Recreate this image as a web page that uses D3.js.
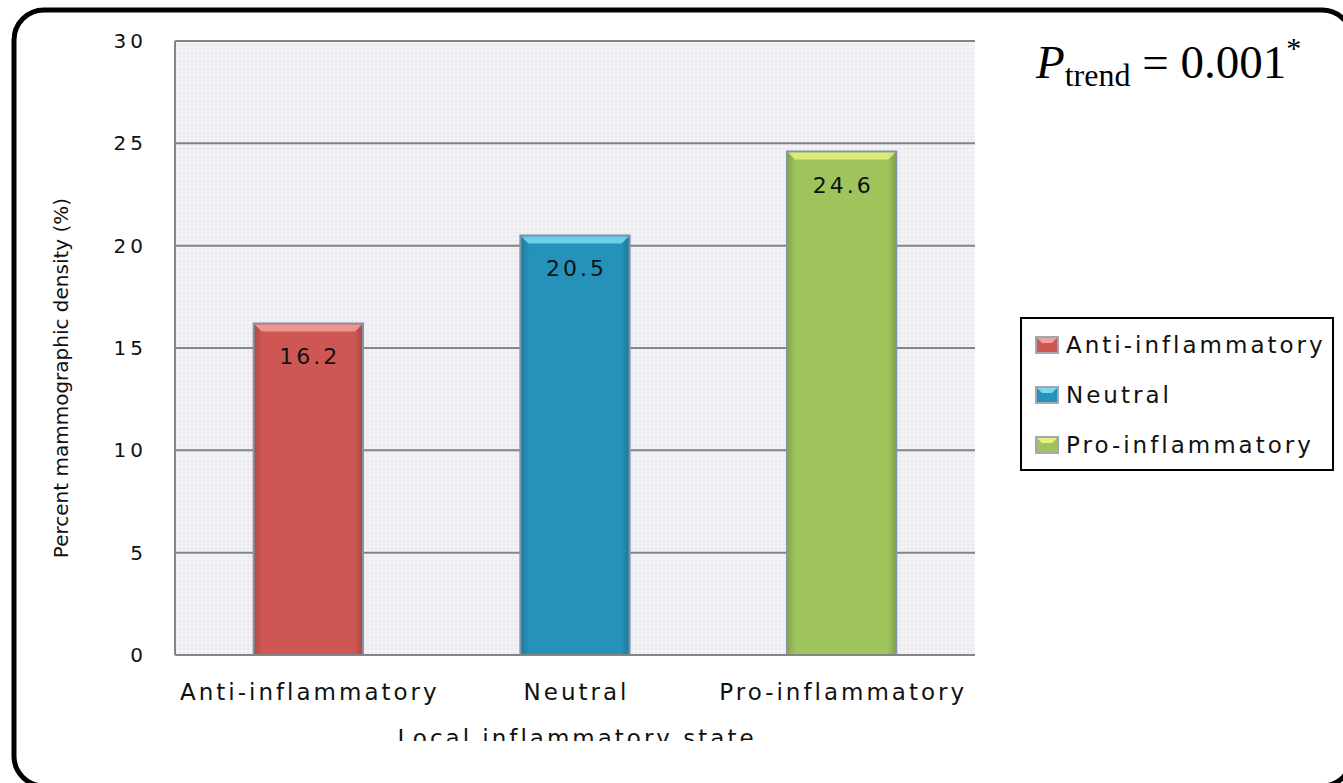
<!DOCTYPE html>
<html>
<head>
<meta charset="utf-8">
<script src="https://cdn.jsdelivr.net/npm/d3@7"></script>
<style>
  html, body { margin: 0; padding: 0; background: #fff; }
  svg { display: block; }
</style>
</head>
<body>
<svg id="chart" width="1343" height="783"></svg>
<script>
// Mean percent mammographic density by local inflammatory state
const categories = ["Anti-inflammatory", "Neutral", "Pro-inflammatory"];
const densityValues = [16.2, 20.5, 24.6];
const yTicks = [0, 5, 10, 15, 20, 25, 30];
const barColors = ["#cf5753", "#2593b9", "#9fc45c"];
const barLight = ["#f2a0a0", "#7ad8f0", "#e6f27a"];

const svg = d3.select("#chart");
const font = "'DejaVu Sans', Verdana, sans-serif";

// Outer rounded frame (runs off the right and bottom edges)
svg.append("rect")
  .attr("x", 14).attr("y", 10)
  .attr("width", 1338).attr("height", 776)
  .attr("rx", 30).attr("ry", 30)
  .attr("fill", "none").attr("stroke", "#000").attr("stroke-width", 5);

const plot = { left: 175, right: 975, top: 41, bottom: 655 };

const x = d3.scaleBand()
  .domain(categories)
  .range([plot.left, plot.right])
  .paddingInner(0.59).paddingOuter(0.295);

const y = d3.scaleLinear().domain([0, 30]).range([plot.bottom, plot.top]);

const defs = svg.append("defs");

// Faint textured background for the plotting area
const pat = defs.append("pattern")
  .attr("id", "bgTex").attr("width", 4).attr("height", 4)
  .attr("patternUnits", "userSpaceOnUse");
pat.append("rect").attr("width", 4).attr("height", 4).attr("fill", "#f1f0f3");
pat.append("rect").attr("x", 0).attr("y", 0).attr("width", 1).attr("height", 1).attr("fill", "#e4e2e8");
pat.append("rect").attr("x", 2).attr("y", 2).attr("width", 1).attr("height", 1).attr("fill", "#fafafc");
pat.append("rect").attr("x", 3).attr("y", 1).attr("width", 1).attr("height", 1).attr("fill", "#e7e5ea");

svg.append("rect")
  .attr("x", plot.left).attr("y", plot.top)
  .attr("width", plot.right - plot.left).attr("height", plot.bottom - plot.top)
  .attr("fill", "url(#bgTex)");

// Horizontal gridlines
svg.append("g")
  .selectAll("line")
  .data(yTicks)
  .join("line")
  .attr("x1", plot.left).attr("x2", plot.right)
  .attr("y1", d => y(d)).attr("y2", d => y(d))
  .attr("stroke", "#858585").attr("stroke-width", 2);

// Left axis line
svg.append("line")
  .attr("x1", plot.left).attr("x2", plot.left)
  .attr("y1", plot.top).attr("y2", plot.bottom)
  .attr("stroke", "#858585").attr("stroke-width", 2);

// Y axis tick labels
const yAxis = d3.axisLeft(y).tickValues(yTicks).tickSize(0).tickPadding(0);
const yg = svg.append("g").attr("transform", `translate(${plot.left - 28},0)`).call(yAxis);
yg.select(".domain").remove();
yg.selectAll("text")
  .attr("font-family", font).attr("font-size", 20)
  .attr("letter-spacing", "4px").attr("fill", "#111");

// Y axis title
svg.append("text")
  .attr("transform", `translate(68,378) rotate(-90)`)
  .attr("text-anchor", "middle")
  .attr("font-family", font).attr("font-size", 20)
  .attr("fill", "#111")
  .text("Percent mammographic density (%)");

// Bars with a bevelled look
const bars = svg.append("g");
categories.forEach((c, i) => {
  const g = defs.append("linearGradient")
    .attr("id", "grad" + i).attr("x1", 0).attr("x2", 1).attr("y1", 0).attr("y2", 0);
  g.append("stop").attr("offset", "0%").attr("stop-color", d3.color(barColors[i]).darker(0.5));
  g.append("stop").attr("offset", "8%").attr("stop-color", barColors[i]);
  g.append("stop").attr("offset", "92%").attr("stop-color", barColors[i]);
  g.append("stop").attr("offset", "100%").attr("stop-color", d3.color(barColors[i]).darker(0.6));
});

bars.selectAll("rect.bar")
  .data(densityValues)
  .join("rect")
  .attr("class", "bar")
  .attr("x", (d, i) => x(categories[i]))
  .attr("y", d => y(d))
  .attr("width", x.bandwidth())
  .attr("height", d => y(0) - y(d))
  .attr("fill", (d, i) => `url(#grad${i})`)
  .attr("stroke", "#8394ad").attr("stroke-width", 2);

// Light bevel along the top of each bar
bars.selectAll("path.bevel")
  .data(densityValues)
  .join("path")
  .attr("class", "bevel")
  .attr("d", (d, i) => {
    const x0 = x(categories[i]) + 1, x1 = x0 + x.bandwidth() - 2, t = y(d) + 1;
    return `M${x0},${t} L${x1},${t} L${x1 - 7},${t + 7} L${x0 + 7},${t + 7} Z`;
  })
  .attr("fill", (d, i) => barLight[i]).attr("opacity", 0.85);

// Value labels inside the bars
bars.selectAll("text.val")
  .data(densityValues)
  .join("text")
  .attr("class", "val")
  .attr("x", (d, i) => x(categories[i]) + x.bandwidth() / 2 + 1.5)
  .attr("y", d => y(d) + 41)
  .attr("text-anchor", "middle")
  .attr("font-family", font).attr("font-size", 22)
  .attr("letter-spacing", "3px").attr("fill", "#111")
  .text(d => d.toFixed(1));

// Bottom axis line
svg.append("line")
  .attr("x1", plot.left).attr("x2", plot.right)
  .attr("y1", plot.bottom).attr("y2", plot.bottom)
  .attr("stroke", "#858585").attr("stroke-width", 2);

// X axis category labels
const xAxis = d3.axisBottom(x).tickSize(0).tickPadding(0);
const xg = svg.append("g").attr("transform", `translate(1.5,${plot.bottom + 45})`).call(xAxis);
xg.select(".domain").remove();
xg.selectAll("text")
  .attr("dy", 0)
  .attr("font-family", font).attr("font-size", 23)
  .attr("letter-spacing", "3px").attr("fill", "#111");

// X axis title, cut off along its lower edge
defs.append("clipPath").attr("id", "titleClip")
  .append("rect").attr("x", 0).attr("y", 700).attr("width", 1343).attr("height", 41);
svg.append("text")
  .attr("clip-path", "url(#titleClip)")
  .attr("x", 577).attr("y", 746)
  .attr("text-anchor", "middle")
  .attr("font-family", font).attr("font-size", 23)
  .attr("letter-spacing", "3px").attr("fill", "#111")
  .text("Local inflammatory state");

// Legend
const legend = svg.append("g");
legend.append("rect")
  .attr("x", 1021).attr("y", 318).attr("width", 312).attr("height", 152)
  .attr("fill", "#fff").attr("stroke", "#000").attr("stroke-width", 2);
const items = legend.selectAll("g.item")
  .data(categories)
  .join("g")
  .attr("class", "item")
  .attr("transform", (d, i) => `translate(1036,${345 + i * 50})`);
items.append("rect")
  .attr("x", 0).attr("y", -8).attr("width", 22).attr("height", 16)
  .attr("fill", (d, i) => barColors[i])
  .attr("stroke", "#a0a8b8").attr("stroke-width", 2);
items.append("path")
  .attr("d", "M1,-7 L21,-7 L16,-2 L6,-2 Z")
  .attr("fill", (d, i) => barLight[i]);
items.append("text")
  .attr("x", 30).attr("y", 8)
  .attr("font-family", font).attr("font-size", 23)
  .attr("letter-spacing", "3px").attr("fill", "#111")
  .text(d => d);

// Trend test annotation
const ann = svg.append("text")
  .attr("x", 1036).attr("y", 78)
  .attr("font-family", "'Liberation Serif', 'Times New Roman', serif")
  .attr("fill", "#000");
ann.append("tspan").attr("font-style", "italic").attr("font-size", 47).text("P");
ann.append("tspan").attr("font-size", 32).attr("dy", 8).text("trend");
ann.append("tspan").attr("font-size", 47).attr("dy", -8).text(" = 0.001");
ann.append("tspan").attr("font-size", 30).attr("dy", -20).text("*");
</script>
</body>
</html>
